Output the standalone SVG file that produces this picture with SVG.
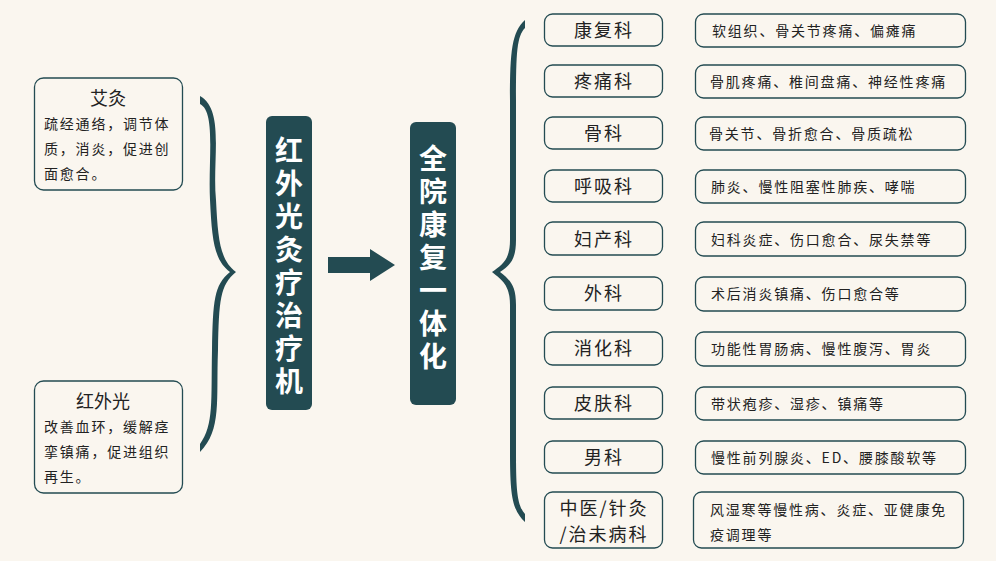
<svg xmlns="http://www.w3.org/2000/svg" width="996" height="561" viewBox="0 0 996 561">
<style>
.bx{fill:none;stroke:#234b52;stroke-width:1.3}
.dk{fill:#234b52}
text{font-family:"Noto Sans CJK SC",sans-serif;fill:#222}
.d{font-size:18px;text-anchor:middle;letter-spacing:2px}
.s{font-size:14px;letter-spacing:1.8px}
.v{font-size:28px;font-weight:bold;fill:#fff;text-anchor:middle}
</style>
<rect width="996" height="561" fill="#faf6ef"/>
<g id="connectors">
<path class="dk" d="M200,96 C225,110 212,160 216,200 C218,240 220,260 236,272 C220,285 219,300 218,350 C216,400 222,430 200,452 L200,444 C214,425 211,400 212,350 C213,300 214,285 230,272 C214,260 212,240 210,200 C208,160 216,112 200,104 Z"/>
<path class="dk" d="M525,20 C512,32 510,50 510,100 L510,240 C510,260 502,265 492,272 C502,280 510,285 510,305 L510,450 C510,495 512,510 525,522 L525,514 C517,505 516,490 516,450 L516,305 C516,285 510,280 500,272 C510,265 516,260 516,240 L516,100 C516,52 517,36 525,28 Z"/>
<path class="dk" d="M328,257 H370 V249 L395,265 L370,281 V273 H328 Z"/>
</g>
<g id="aijiu"><rect class="bx" x="34.5" y="78" width="148" height="112" rx="9"/>
<text x="108" y="105" font-size="18" text-anchor="middle">艾灸</text>
<text class="s" x="44" y="129">疏经通络，调节体</text><text class="s" x="44" y="154">质，消炎，促进创</text><text class="s" x="44" y="179">面愈合。</text></g>
<g id="hongwai"><rect class="bx" x="34.5" y="381" width="148" height="112" rx="9"/>
<text x="103" y="408" font-size="18" text-anchor="middle">红外光</text>
<text class="s" x="44" y="432">改善血环，缓解痉</text><text class="s" x="44" y="457">挛镇痛，促进组织</text><text class="s" x="44" y="482">再生。</text></g>
<g id="machine"><rect class="dk" x="266" y="116" width="46" height="294" rx="6"/>
<text class="v" x="289" y="161">红</text><text class="v" x="289" y="194">外</text><text class="v" x="289" y="227">光</text><text class="v" x="289" y="260">灸</text><text class="v" x="289" y="293">疗</text><text class="v" x="289" y="326">治</text><text class="v" x="289" y="359">疗</text><text class="v" x="289" y="392">机</text></g>
<g id="hospital"><rect class="dk" x="410" y="122" width="46" height="283" rx="6"/>
<text class="v" x="433" y="169">全</text><text class="v" x="433" y="202">院</text><text class="v" x="433" y="235">康</text><text class="v" x="433" y="268">复</text><text class="v" x="433" y="301">一</text><text class="v" x="433" y="334">体</text><text class="v" x="433" y="367">化</text></g>
<g id="r1"><rect class="bx" x="544.5" y="14" width="118" height="32" rx="8"/><text class="d" x="604" y="37">康复科</text><rect class="bx" x="695.5" y="14" width="270" height="33" rx="8"/><text class="s" x="712" y="36">软组织、骨关节疼痛、偏瘫痛</text></g>
<g id="r2"><rect class="bx" x="544.5" y="65" width="118" height="32" rx="8"/><text class="d" x="604" y="88">疼痛科</text><rect class="bx" x="695.5" y="65" width="270" height="33" rx="8"/><text class="s" x="710" y="87">骨肌疼痛、椎间盘痛、神经性疼痛</text></g>
<g id="r3"><rect class="bx" x="544.5" y="117" width="118" height="32" rx="8"/><text class="d" x="604" y="140">骨科</text><rect class="bx" x="695.5" y="117" width="270" height="33" rx="8"/><text class="s" x="709" y="139">骨关节、骨折愈合、骨质疏松</text></g>
<g id="r4"><rect class="bx" x="544.5" y="170" width="118" height="32" rx="8"/><text class="d" x="604" y="193">呼吸科</text><rect class="bx" x="695.5" y="170" width="270" height="33" rx="8"/><text class="s" x="711" y="192">肺炎、慢性阻塞性肺疾、哮喘</text></g>
<g id="r5"><rect class="bx" x="544.5" y="222" width="118" height="33" rx="8"/><text class="d" x="604" y="246">妇产科</text><rect class="bx" x="695.5" y="222" width="270" height="34" rx="8"/><text class="s" x="711" y="245">妇科炎症、伤口愈合、尿失禁等</text></g>
<g id="r6"><rect class="bx" x="544.5" y="277" width="118" height="33" rx="8"/><text class="d" x="604" y="300">外科</text><rect class="bx" x="695.5" y="277" width="270" height="34" rx="8"/><text class="s" x="711" y="299">术后消炎镇痛、伤口愈合等</text></g>
<g id="r7"><rect class="bx" x="544.5" y="332" width="118" height="33" rx="8"/><text class="d" x="604" y="355">消化科</text><rect class="bx" x="695.5" y="332" width="270" height="34" rx="8"/><text class="s" x="711" y="354">功能性胃肠病、慢性腹泻、胃炎</text></g>
<g id="r8"><rect class="bx" x="544.5" y="387" width="118" height="32" rx="8"/><text class="d" x="604" y="410">皮肤科</text><rect class="bx" x="695.5" y="387" width="270" height="33" rx="8"/><text class="s" x="711" y="409">带状疱疹、湿疹、镇痛等</text></g>
<g id="r9"><rect class="bx" x="544.5" y="441" width="118" height="32" rx="8"/><text class="d" x="604" y="464">男科</text><rect class="bx" x="695.5" y="441" width="270" height="33" rx="8"/><text class="s" x="711" y="463">慢性前列腺炎、ED、腰膝酸软等</text></g>
<g id="r10"><rect class="bx" x="544.5" y="492" width="118" height="56" rx="8"/><text class="d" x="604" y="515">中医/针灸</text><text class="d" x="604" y="541">/治未病科</text><rect class="bx" x="693.5" y="492" width="270" height="56" rx="8"/><text class="s" x="710" y="515">风湿寒等慢性病、炎症、亚健康免</text><text class="s" x="710" y="540">疫调理等</text></g>
</svg>
